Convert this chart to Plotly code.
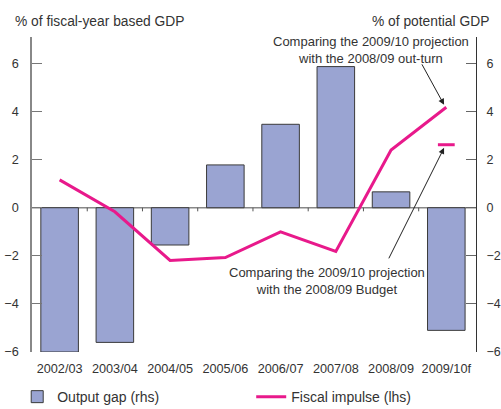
import plotly.graph_objects as go

categories = ["2002/03", "2003/04", "2004/05", "2005/06", "2006/07", "2007/08", "2008/09", "2009/10f"]
output_gap = [-6.0, -5.6, -1.55, 1.78, 3.47, 5.87, 0.66, -5.1]
fiscal_impulse = [1.16, -0.17, -2.19, -2.07, -1.0, -1.82, 2.4, 4.18]
budget_cat = ["2009/10f"]
budget_val = [2.62]
tick_vals = [-6, -4, -2, 0, 2, 4, 6]

PINK = "#e8198b"
BAR = "#9aa4d2"
TXT = "#333333"
FONT = "Liberation Sans, Arial, sans-serif"

fig = go.Figure()
fig.add_trace(go.Bar(
    x=categories, y=output_gap, name="Output gap (rhs)",
    marker=dict(color=BAR, line=dict(color="#3a3a3a", width=1)),
    width=0.68, yaxis="y"))
fig.add_trace(go.Scatter(
    x=categories, y=fiscal_impulse, name="Fiscal impulse (lhs)",
    mode="lines", line=dict(color=PINK, width=3), yaxis="y2"))
fig.add_trace(go.Scatter(
    x=budget_cat, y=budget_val, mode="markers", showlegend=False,
    marker=dict(symbol="line-ew", size=12, line=dict(color=PINK, width=3)),
    yaxis="y2"))

yr = [-6, 7.1]
fig.update_layout(
    width=501, height=409,
    margin=dict(l=32, r=25, t=37, b=57, autoexpand=False),
    paper_bgcolor="white", plot_bgcolor="white",
    font=dict(family=FONT, size=13, color=TXT),
    showlegend=True,
    legend=dict(orientation="h", x=-0.0333, y=-0.143, yanchor="middle", xanchor="left",
                entrywidth=189, entrywidthmode="pixels", bgcolor="rgba(0,0,0,0)",
                font=dict(size=14, color=TXT), itemwidth=30, traceorder="normal"),
    xaxis=dict(type="category", showline=False, showgrid=False, zeroline=False,
               ticks="outside", ticklen=5, tickcolor="rgba(0,0,0,0)", automargin=False,
               tickfont=dict(size=12.7, color=TXT)),
    yaxis=dict(side="right", range=yr, tickvals=tick_vals, showgrid=False, zeroline=False,
               showline=True, linecolor="#333333", linewidth=1, automargin=False,
               ticks="inside", ticklen=10, tickcolor="#666666", ticklabelstandoff=7,
               tickfont=dict(size=12.5, color=TXT)),
    yaxis2=dict(side="left", overlaying="y", range=yr, tickvals=tick_vals, showgrid=False,
                zeroline=False, showline=True, linecolor="#888888", linewidth=1.5,
                automargin=False, ticklabelstandoff=9,
                ticks="inside", ticklen=10, tickcolor="#777777",
                tickfont=dict(size=12.7, color=TXT)),
    bargap=0.32,
)

# zero line and category boundary ticks
fig.add_shape(type="line", xref="paper", yref="y", x0=0, x1=1, y0=0, y1=0,
              line=dict(color="#888888", width=1.5), layer="below")
for i in range(1, len(categories)):
    fig.add_shape(type="line", xref="x", yref="y", x0=i - 0.5, x1=i - 0.5, y0=0, y1=-0.15,
                  line=dict(color="#555555", width=1), layer="below")

# axis titles
fig.add_annotation(text="% of fiscal-year based GDP", xref="paper", yref="paper",
                   x=-0.043, y=1.049, xanchor="left", yanchor="middle", showarrow=False,
                   font=dict(size=13.8, color=TXT))
fig.add_annotation(text="% of potential GDP", xref="paper", yref="paper",
                   x=1.034, y=1.049, xanchor="right", yanchor="middle", showarrow=False,
                   font=dict(size=13.8, color=TXT))

# callouts
fig.add_annotation(text="Comparing the 2009/10 projection<br>with the 2008/09 out-turn",
                   xref="paper", yref="paper", x=0.7635, y=0.960, xanchor="center",
                   yanchor="middle", showarrow=False, font=dict(size=13, color=TXT))
fig.add_annotation(text="Comparing the 2009/10 projection<br>with the 2008/09 Budget",
                   xref="paper", yref="paper", x=0.6655, y=0.2254, xanchor="center",
                   yanchor="middle", showarrow=False, font=dict(size=13, color=TXT))
fig.add_annotation(text="", xref="x", yref="y2", x=6.96, y=4.28, ax=-23, ay=-42,
                   showarrow=True, arrowhead=2, arrowsize=1.2, arrowwidth=1, arrowcolor="#222222")
fig.add_annotation(text="", xref="x", yref="y2", x=6.96, y=2.49, ax=-56, ay=112,
                   showarrow=True, arrowhead=2, arrowsize=1.2, arrowwidth=1, arrowcolor="#222222")

fig.write_html("out.html", config={"displayModeBar": False},
               post_script="document.body.style.margin='0px';document.body.style.padding='0px';")
